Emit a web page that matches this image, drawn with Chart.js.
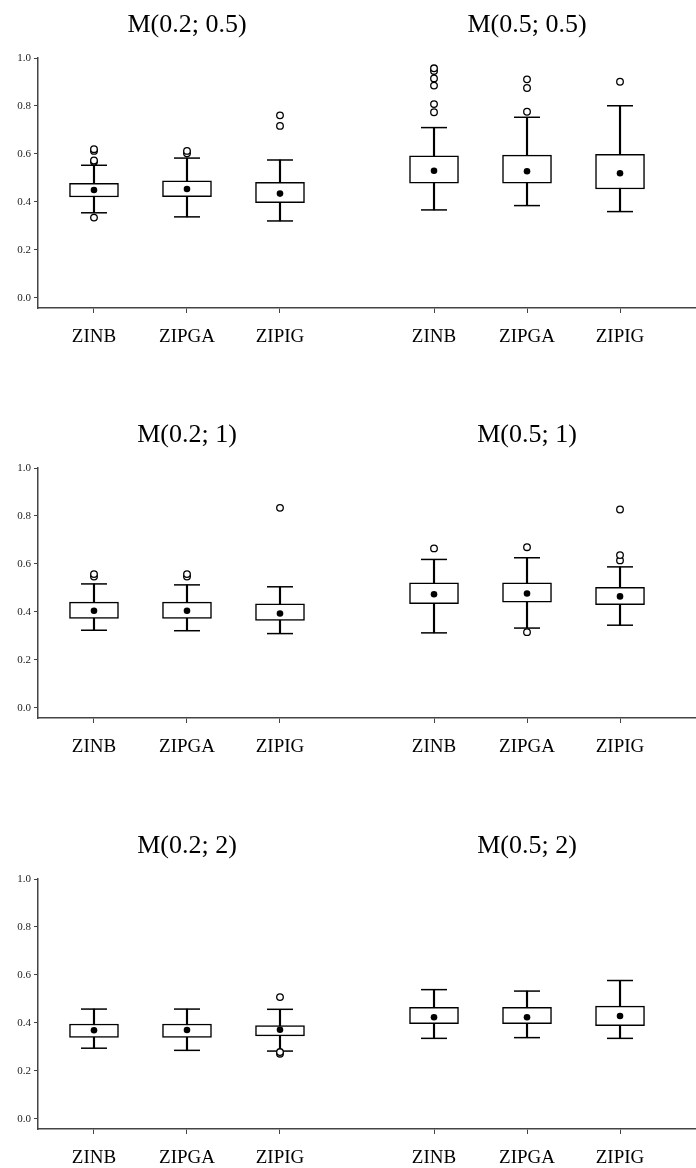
<!DOCTYPE html>
<html>
<head>
<meta charset="utf-8">
<script src="https://cdn.jsdelivr.net/npm/chart.js@4.4.1/dist/chart.umd.min.js"></script>
<style>
  body { margin: 0; background: #fff; }
  #wrap { position: relative; width: 696px; height: 1168px; }
  canvas { position: absolute; left: 0; }
</style>
</head>
<body>
<div id="wrap">
  <canvas id="row0" width="696" height="347" style="top:0px"></canvas>
  <canvas id="row1" width="696" height="347" style="top:410px"></canvas>
  <canvas id="row2" width="696" height="347" style="top:821px"></canvas>
</div>
<script>
// data
const models = ['ZINB', 'ZIPGA', 'ZIPIG'];
const positions = [1, 2, 3, 4.656, 5.656, 6.656];   // left group, right group
const groupCentres = [2, 5.656];
const yTicks = [0, 0.2, 0.4, 0.6, 0.8, 1.0];

const rowTitles = [
    ['M(0.2; 0.5)', 'M(0.5; 0.5)'],
    ['M(0.2; 1)', 'M(0.5; 1)'],
    ['M(0.2; 2)', 'M(0.5; 2)']
];
const whiskerLow = [
    [0.355, 0.338, 0.321, 0.367, 0.385, 0.360],
    [0.324, 0.322, 0.310, 0.313, 0.333, 0.345],
    [0.295, 0.286, 0.283, 0.336, 0.339, 0.336]
];
const q1 = [
    [0.421, 0.422, 0.397, 0.478, 0.478, 0.454],
    [0.373, 0.373, 0.365, 0.435, 0.441, 0.431],
    [0.340, 0.340, 0.346, 0.397, 0.397, 0.389]
];
const means = [
    [0.450, 0.454, 0.435, 0.530, 0.528, 0.520],
    [0.405, 0.405, 0.394, 0.474, 0.477, 0.465],
    [0.370, 0.371, 0.372, 0.424, 0.424, 0.429]
];
const q3 = [
    [0.478, 0.488, 0.482, 0.592, 0.595, 0.599],
    [0.441, 0.441, 0.434, 0.522, 0.522, 0.503],
    [0.396, 0.396, 0.389, 0.465, 0.465, 0.470]
];
const whiskerHigh = [
    [0.553, 0.583, 0.575, 0.710, 0.753, 0.801],
    [0.517, 0.513, 0.505, 0.619, 0.626, 0.588],
    [0.458, 0.458, 0.457, 0.539, 0.533, 0.577]
];
const outliers = [
    [[0.335, 0.568, 0.573, 0.613, 0.620], [0.603, 0.613], [0.717, 0.761],
     [0.774, 0.808, 0.885, 0.915, 0.946, 0.957], [0.776, 0.875, 0.911], [0.901]],
    [[0.548, 0.558], [0.548, 0.558], [0.834],
     [0.665], [0.316, 0.670], [0.615, 0.637, 0.827]],
    [[], [], [0.272, 0.279, 0.508],
     [], [], []]
];

const serif = "'Liberation Serif', 'DejaVu Serif', serif";
const axisColor = '#444';
const xMin = 0.398, xMax = 7.473;
const yMin = -0.0417, yMax = 1.0;

function buildRow(r) {
    const boxes = positions.map((x, i) => ({x: x, y: [q1[r][i], q3[r][i]]}));
    const stems = positions.map((x, i) => ({x: x, y: [whiskerLow[r][i], whiskerHigh[r][i]]}));
    const caps = positions.flatMap((x, i) => [{x: x, y: whiskerLow[r][i]}, {x: x, y: whiskerHigh[r][i]}]);
    const dots = positions.map((x, i) => ({x: x, y: means[r][i]}));
    const outs = positions.flatMap((x, i) => outliers[r][i].map(v => ({x: x, y: v})));

    new Chart(document.getElementById('row' + r), {
        type: 'bar',
        data: {
            datasets: [
                {type: 'bar', data: stems, barThickness: 1.5, backgroundColor: '#000',
                 borderWidth: 0, grouped: false, order: 4},
                {type: 'scatter', data: caps, pointStyle: 'line', pointRadius: 13,
                 borderColor: '#000', borderWidth: 1.5, order: 3},
                {type: 'bar', data: boxes, barThickness: 49, backgroundColor: '#fff',
                 borderColor: '#000', borderWidth: 1.5, borderSkipped: false, grouped: false, order: 2},
                {type: 'scatter', data: dots, pointRadius: 3.3, backgroundColor: '#000',
                 borderColor: '#000', borderWidth: 0, order: 1},
                {type: 'scatter', data: outs, pointRadius: 3.3, backgroundColor: '#fff',
                 borderColor: '#000', borderWidth: 1.3, order: 0}
            ]
        },
        options: {
            responsive: false,
            animation: false,
            events: [],
            layout: {padding: 0, autoPadding: false},
            plugins: {legend: {display: false}, tooltip: {enabled: false}},
            scales: {
                x: {
                    type: 'linear', position: 'bottom', min: xMin, max: xMax, offset: false,
                    afterBuildTicks: s => { s.ticks = positions.map(v => ({value: v})); },
                    afterFit: s => { s.height = 39; },
                    ticks: {autoSkip: false, maxRotation: 0, padding: 13, color: '#000',
                            font: {family: serif, size: 19},
                            callback: (v, i) => models[i % 3]},
                    grid: {offset: false, drawOnChartArea: false, drawTicks: true, tickLength: 5, color: axisColor},
                    border: {display: true, color: axisColor, width: 1.5}
                },
                x2: {
                    type: 'linear', position: 'top', min: xMin, max: xMax, offset: false,
                    afterBuildTicks: s => { s.ticks = groupCentres.map(v => ({value: v})); },
                    afterFit: s => { s.height = 58; },
                    ticks: {autoSkip: false, maxRotation: 0, padding: 9, color: '#000',
                            font: {family: serif, size: 26},
                            callback: (v, i) => rowTitles[r][i]},
                    grid: {display: false, offset: false},
                    border: {display: false}
                },
                y: {
                    min: yMin, max: yMax,
                    afterBuildTicks: s => { s.ticks = yTicks.map(v => ({value: v})); },
                    afterFit: s => { s.width = 38; },
                    ticks: {padding: 3, color: '#222', font: {family: serif, size: 11},
                            callback: v => v.toFixed(1)},
                    grid: {drawOnChartArea: false, drawTicks: true, tickLength: 4, color: axisColor},
                    border: {display: true, color: axisColor, width: 1.5}
                }
            }
        }
    });
}

for (let r = 0; r < 3; r++) buildRow(r);
</script>
</body>
</html>
